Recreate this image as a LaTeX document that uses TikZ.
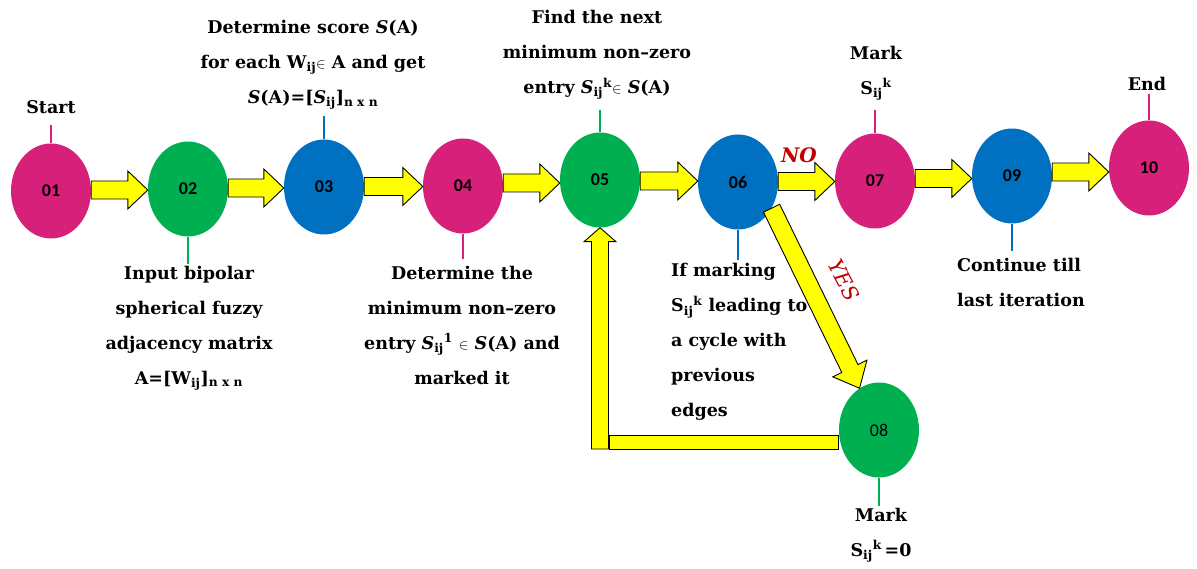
\documentclass[tikz,border=0pt]{standalone}
\usepackage{fontspec}
\setmainfont{DejaVu Serif}
\newfontfamily\numfont{Carlito}
\usetikzlibrary{shapes.geometric,calc}
\definecolor{cmag}{HTML}{D6207A}
\definecolor{cgreen}{HTML}{00B050}
\definecolor{cblue}{HTML}{0070C0}
\definecolor{cyel}{HTML}{FFFF00}
\definecolor{cred}{HTML}{C00000}
\tikzset{
  stage/.style={ellipse, minimum width=80pt, minimum height=95pt, inner sep=0pt,
    font=\numfont\bfseries\fontsize{18}{20}\selectfont},
  lbl/.style={inner sep=0pt, align=center, font=\rmfamily\bfseries\fontsize{17.5}{35}\selectfont},
  lbll/.style={inner sep=0pt, align=left, anchor=west, font=\rmfamily\bfseries\fontsize{17.5}{35}\selectfont},
  stem/.style={line width=2pt},
  arrowbody/.style={fill=cyel, draw=black, line width=0.9pt, line join=miter},
}
% #1 start, #2 end, #3 shaft half width, #4 head half width, #5 head length
\newcommand\blockarrow[5]{%
  \filldraw[arrowbody]
    ($(#1)!#3!90:(#2)$) --
    ($(#2)!#5!(#1)!#3!90:(#2)$) --
    ($(#2)!#5!(#1)!#4!90:(#2)$) --
    (#2) --
    ($(#2)!#5!(#1)!#4!-90:(#2)$) --
    ($(#2)!#5!(#1)!#3!-90:(#2)$) --
    ($(#1)!#3!-90:(#2)$) -- cycle;}
% horizontal block arrow from node #1 to node #2, at their mean height
\newcommand\harrow[2]{%
  \coordinate (hm) at ($(#1.east)!0.5!(#2.west)$);
  \coordinate (hs) at (#1.east |- hm);
  \coordinate (he) at (#2.west |- hm);
  \blockarrow{hs}{he}{9pt}{19pt}{20pt}}
\newcommand\Sij{\textit{S}\textsubscript{ij}}
\newcommand\Sk{S\textsubscript{ij}\textsuperscript{k}}
\newcommand\elm{{\fontsize{14}{14}\selectfont$\in$}}
\begin{document}
\begin{tikzpicture}[x=1pt,y=-1pt]
\useasboundingbox (0,0) rectangle (1197,569);
% stages
\node[stage, fill=cmag]   (n01) at (51,191)   {01};
\node[stage, fill=cgreen] (n02) at (188,189)  {02};
\node[stage, fill=cblue]  (n03) at (324,187)  {03};
\node[stage, fill=cmag]   (n04) at (463,186)  {04};
\node[stage, fill=cgreen] (n05) at (600,180)  {05};
\node[stage, fill=cblue]  (n06) at (738,182)  {06};
\node[stage, fill=cmag]   (n07) at (875,181)  {07};
\node[stage, fill=cblue]  (n09) at (1012,176) {09};
\node[stage, fill=cmag]   (n10) at (1149,168) {10};
\node[stage, fill=cgreen, font=\numfont\fontsize{18}{20}\selectfont] (n08) at (879,430) {08};
% stems
\draw[stem,cmag]   (n01.north) -- ++(0,-18);
\draw[stem,cgreen] (n02.south) -- ++(0,27);
\draw[stem,cblue]  (n03.north) -- ++(0,-23);
\draw[stem,cmag]   (n04.south) -- ++(0,25);
\draw[stem,cgreen] (n05.north) -- ++(0,-22);
\draw[stem,cblue]  (n06.south) -- ++(0,30);
\draw[stem,cmag]   (n07.north) -- ++(0,-23);
\draw[stem,cblue]  (n09.south) -- ++(0,27);
\draw[stem,cmag]   (n10.north) -- ++(0,-26);
\draw[stem,cgreen] (n08.south) -- ++(0,28);
% labels
\node[lbl] (l01) at (51,107) {Start};
\node[lbl] (l02) at (189,328) {Input bipolar\\ spherical fuzzy\\ adjacency matrix\\ A=[W\textsubscript{ij}]\textsubscript{n x n}};
\node[lbl] (l03) at (313,65) {Determine score \textit{S}(A)\\ for each W\textsubscript{ij}\elm\ A and get\\ \textit{S}(A)=[\Sij]\textsubscript{n x n}};
\node[lbl] (l04) at (462,325) {Determine the\\ minimum non--zero\\ entry \Sij\textsuperscript{1} \elm\ \textit{S}(A) and\\ marked it};
\node[lbl] (l05) at (597,55) {Find the next\\ minimum non--zero\\ entry \Sij\textsuperscript{k}\elm\ \textit{S}(A)};
\node[lbll] (l06) at (671,342) {If marking\\ \Sk\ leading to\\ a cycle with\\ previous\\ edges};
\node[lbl] (l07) at (876,73) {Mark\\ \Sk};
\node[lbl] (l08) at (881,535) {Mark\\ \Sk\,=0};
\node[lbll] (l09) at (957,282) {Continue till\\ last iteration};
\node[lbl] (l10) at (1147,84) {End};
% arrows
\harrow{n01}{n02}
\harrow{n02}{n03}
\harrow{n03}{n04}
\harrow{n04}{n05}
\harrow{n05}{n06}
\harrow{n06}{n07}
\harrow{n07}{n09}
\harrow{n09}{n10}
\blockarrow{n06.-38}{n08.115}{9pt}{19pt}{22pt}
\coordinate (loopc) at (600,449);
\blockarrow{loopc}{n05.south}{8.5pt}{16pt}{14pt}
\filldraw[arrowbody] (609,435) rectangle ($(n08.west)+(0,19)$);
% decision labels
\node[font=\rmfamily\bfseries\itshape\fontsize{20}{20}\selectfont, text=cred, inner sep=0pt] (no) at (799,155) {NO};
\node[font=\rmfamily\itshape\fontsize{21}{21}\selectfont, text=cred, inner sep=0pt, rotate=-62] (yes) at (844,280) {YES};
\end{tikzpicture}
\end{document}
